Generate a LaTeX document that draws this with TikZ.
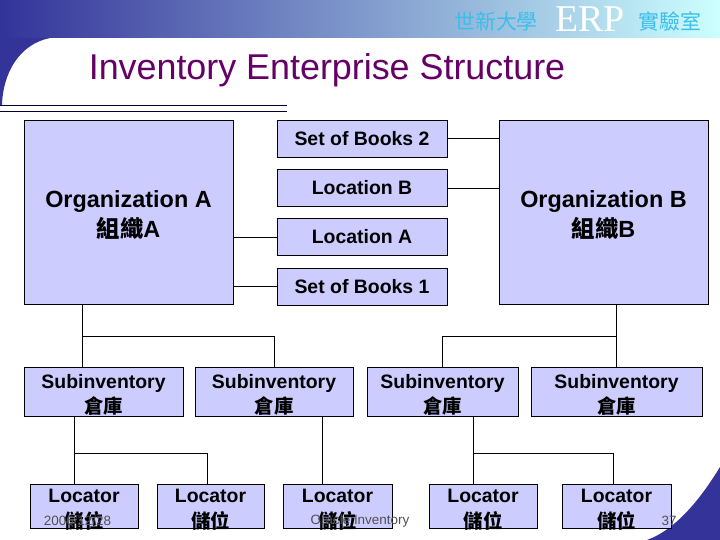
\documentclass[tikz,border=0pt]{standalone}
\usepackage{fontspec}
\setmainfont{Liberation Sans}
\newfontfamily\cjk{Noto Sans CJK TC}
\newfontfamily\serifERP{Liberation Serif}
\usepackage{tikz}
\usetikzlibrary{calc}

\definecolor{boxfill}{RGB}{204,204,255}
\definecolor{darkblue}{RGB}{51,51,153}
\definecolor{lightcyan}{RGB}{204,255,255}
\definecolor{titlepurple}{RGB}{102,0,102}
\definecolor{headcyan}{RGB}{60,190,235}
\definecolor{navyline}{RGB}{0,0,51}
\definecolor{footgray}{RGB}{80,80,80}

% two centred lines, dropped a little inside the box
\newcommand{\twolines}[2]{\raisebox{\dimexpr-0.32em-3.5bp\relax}[0pt][0pt]{\begin{tabular}{@{}c@{}}#1\\#2\end{tabular}}}

\tikzset{
  unitbox/.style={draw=black, fill=boxfill, line width=0.8bp, inner sep=0pt, outer sep=0pt, align=center},
  orgbox/.style={unitbox, minimum width=209bp, minimum height=184bp, font=\bfseries\fontsize{23.5}{29.5}\selectfont},
  bookbox/.style={unitbox, minimum width=170bp, minimum height=37bp, font=\bfseries\fontsize{19.5}{24}\selectfont},
  subbox/.style={unitbox, minimum height=49bp, font=\bfseries\fontsize{19.5}{25}\selectfont},
  locbox/.style={unitbox, minimum height=44bp, font=\bfseries\fontsize{19.5}{25.5}\selectfont},
  link/.style={line width=0.8bp, black},
  foot/.style={font=\fontsize{13.5}{14}\selectfont, text=footgray, inner sep=0pt}
}

\begin{document}
\begin{tikzpicture}[x=1bp, y=-1bp]
\useasboundingbox (0,0) rectangle (720,540);

% --- slide background ---
\fill[white] (0,0) rectangle (720,540);
\shade[left color=darkblue, right color=lightcyan] (0,0) rectangle (720,38);
\fill[darkblue] (0,38) -- (50,38) .. controls (20,44) and (3,72) .. (2,105) -- (0,105) -- cycle;
\fill[darkblue] (647,540) .. controls (675,530) and (700,500) .. (720,467) -- (720,540) -- cycle;

% header
\node[anchor=base, text=headcyan, font=\cjk\fontsize{21}{22}\selectfont] (univ) at (496,30) {世新大學};
\node[anchor=base, text=white, font=\serifERP\fontsize{38}{38}\selectfont] (erp) at (590,32) {ERP};
\node[anchor=base, text=headcyan, font=\cjk\fontsize{21}{22}\selectfont] (lab) at (670,30) {實驗室};

% title
\node[anchor=base, text=titlepurple, font=\fontsize{36}{36}\selectfont] (title) at (327,80) {Inventory Enterprise Structure};
\draw[navyline, line width=0.9bp] (0,105) -- (287,105);
\draw[navyline, line width=0.9bp] (0,111) -- (287,111);

% --- organizations and shared units ---
\node[orgbox] (orgA) at (128.5,212) {\twolines{Organization A}{{\cjk 組織}A}};
\node[orgbox] (orgB) at (603.5,212) {\twolines{Organization B}{{\cjk 組織}B}};

\node[bookbox] (books2) at (362,138.5) {Set of Books 2};
\node[bookbox] (locB) at (362,188) {Location B};
\node[bookbox] (locA) at (362,237) {Location A};
\node[bookbox] (books1) at (362,286.5) {Set of Books 1};

\draw[link] (locA.west -| orgA.east) -- (locA.west);
\draw[link] (books1.west -| orgA.east) -- (books1.west);
\draw[link] (books2.east) -- (books2.east -| orgB.west);
\draw[link] (locB.east) -- (locB.east -| orgB.west);

% --- subinventories ---
\node[subbox, minimum width=159bp] (sub1) at (103.5,391.5) {\twolines{Subinventory}{\cjk 倉庫}};
\node[subbox, minimum width=158bp] (sub2) at (274,391.5) {\twolines{Subinventory}{\cjk 倉庫}};
\node[subbox, minimum width=151bp] (sub3) at (442.5,391.5) {\twolines{Subinventory}{\cjk 倉庫}};
\node[subbox, minimum width=171bp] (sub4) at (616.5,391.5) {\twolines{Subinventory}{\cjk 倉庫}};

\coordinate (jA) at (82,336);
\draw[link] (jA |- orgA.south) -- (jA |- sub1.north);
\draw[link] (jA) -| (sub2.north);
\draw[link] (sub4.north |- orgB.south) -- (sub4.north);
\draw[link] (sub4.north |- jA) -| (sub3.north);

% --- locators ---
\node[locbox, minimum width=108bp] (loc1) at (84,506) {\twolines{Locator}{\cjk 儲位}};
\node[locbox, minimum width=107bp] (loc2) at (210.5,506) {\twolines{Locator}{\cjk 儲位}};
\node[locbox, minimum width=109bp] (loc3) at (337.5,506) {\twolines{Locator}{\cjk 儲位}};
\node[locbox, minimum width=108bp] (loc4) at (483,506) {\twolines{Locator}{\cjk 儲位}};
\node[locbox, minimum width=109bp] (loc5) at (616.5,506) {\twolines{Locator}{\cjk 儲位}};

\coordinate (j1) at (74,453);
\coordinate (j2) at (322,453);
\coordinate (j3) at (473,453);
\draw[link] (j1 |- sub1.south) -- (j1 |- loc1.north);
\draw[link] (j1) -- ($(j1)+(133,0)$) coordinate (k1) -- (k1 |- loc2.north);
\draw[link] (j2 |- sub2.south) -- (j2 |- loc3.north);
\draw[link] (j3 |- sub3.south) -- (j3 |- loc4.north);
\draw[link] (j3) -- ($(j3)+(140,0)$) coordinate (k3) -- (k3 |- loc5.north);

% footer
\node[foot] (date) at (77.5,521) {2006/12/28};
\node[foot] (course) at (360,521) {Oracle Inventory};
\node[foot] (page) at (669,521) {37};

\end{tikzpicture}
\end{document}
